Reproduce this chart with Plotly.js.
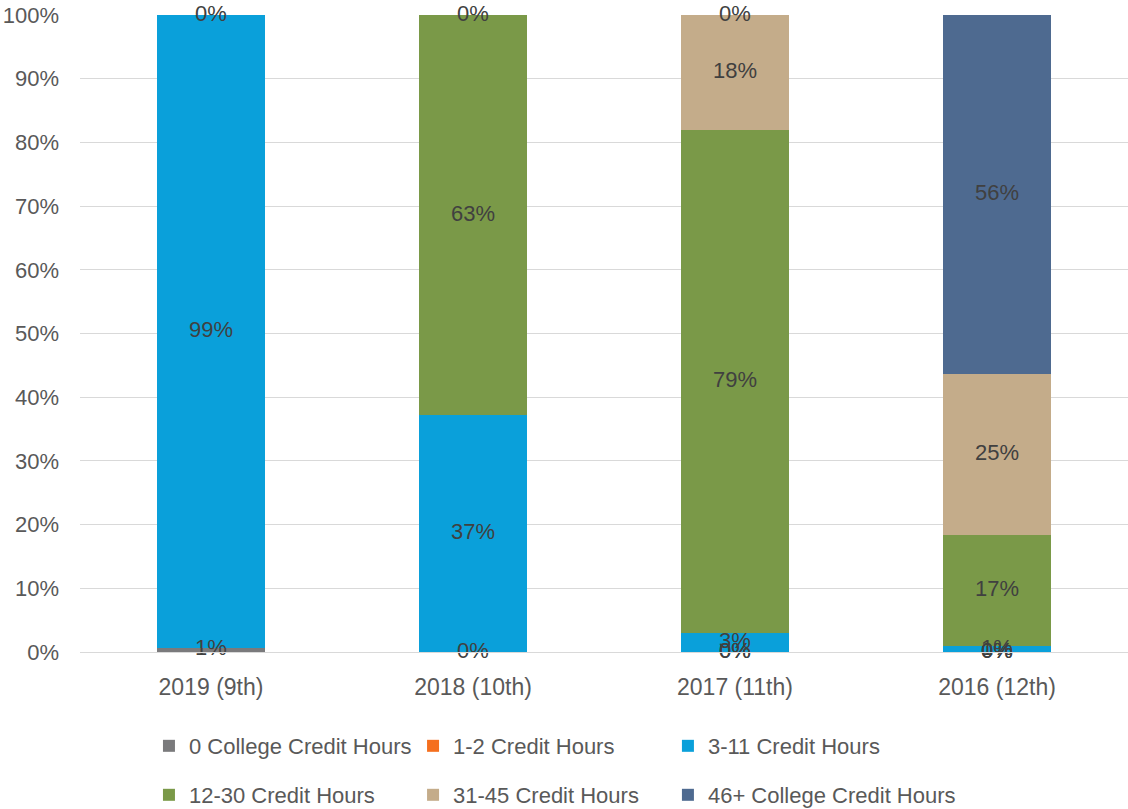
<!DOCTYPE html>
<html>
<head>
<meta charset="utf-8">
<script src="https://cdn.plot.ly/plotly-3.0.1.min.js"></script>
<style>html,body{margin:0;padding:0;background:#fff;}#chart{width:1128px;height:809px;}</style>
</head>
<body>
<div id="chart"></div>
<script>
const categories = ["2019 (9th)", "2018 (10th)", "2017 (11th)", "2016 (12th)"];
const seriesNames = ["0 College Credit Hours", "1-2 Credit Hours", "3-11 Credit Hours", "12-30 Credit Hours", "31-45 Credit Hours", "46+ College Credit Hours"];
const zeroCollege = [0.7, 0, 0, 0];
const oneTwo      = [null, null, 0, 0];
const threeEleven = [99.3, 37.2, 3, 0.9];
const twelveThirty= [0, 62.8, 79, 17.4];
const thirtyOne   = [null, 0, 18, 25.3];
const fortySix    = [null, null, 0, 56.4];
const seriesColors = ["#7a7a7c", "#f56f1e", "#0aa0da", "#7a9948", "#c4ac8a", "#4e6a90"];

const FONT = "Liberation Sans, Arial, sans-serif";
const allSeries = [zeroCollege, oneTwo, threeEleven, twelveThirty, thirtyOne, fortySix];
const legendIds = ["legend", "legend2", "legend3", "legend4", "legend5", "legend6"];

const traces = [];
allSeries.forEach((vals, i) => {
  traces.push({
    type: "bar", name: seriesNames[i], x: categories, y: vals.map(v => v === null ? 0 : v),
    marker: {color: seriesColors[i], line: {width: 0}},
    legend: legendIds[i],
    hoverinfo: "skip"
  });
});
// data labels at segment centres
const cum = categories.map(() => 0);
allSeries.forEach((vals, i) => {
  const xs = [], ys = [], ts = [];
  vals.forEach((v, j) => {
    if (v === null) return;
    xs.push(categories[j]); ys.push(cum[j] + v / 2); ts.push(Math.round(v) + "%");
    cum[j] += v;
  });
  traces.push({
    type: "scatter", mode: "text", x: xs, y: ys, text: ts, showlegend: false,
    textposition: "middle center", cliponaxis: false, hoverinfo: "skip",
    textfont: {family: FONT, size: 22, color: "#404040"}
  });
});

const layout = {
  width: 1128, height: 809,
  margin: {l: 80, r: 0, t: 15, b: 157, autoexpand: false},
  paper_bgcolor: "#ffffff", plot_bgcolor: "#ffffff",
  barmode: "stack", bargap: 0.59,
  font: {family: FONT, size: 22, color: "#595959"},
  xaxis: {type: "category", showgrid: false, showline: true, linecolor: "#d9d9d9", linewidth: 1,
          ticks: "", ticklabelstandoff: 14, tickfont: {family: FONT, size: 23, color: "#595959"}, fixedrange: true},
  yaxis: {range: [0, 100], dtick: 10, ticksuffix: "%", showgrid: true, gridcolor: "#d9d9d9", gridwidth: 1,
          zeroline: false, showline: false, ticks: "", ticklabelstandoff: 20,
          tickfont: {family: FONT, size: 22, color: "#595959"}, fixedrange: true},
  showlegend: true
};
const legX = [0.0658, 0.3178, 0.561];
const legY = [-0.1476, -0.2245];
legendIds.forEach((id, i) => {
  layout[id] = {orientation: "h", x: legX[i % 3], xanchor: "left", y: legY[Math.floor(i / 3)], yanchor: "middle",
                font: {family: FONT, size: 22, color: "#595959"}, itemwidth: 30, bgcolor: "rgba(0,0,0,0)"};
});
Plotly.newPlot("chart", traces, layout, {displayModeBar: false, staticPlot: true});
</script>
</body>
</html>
